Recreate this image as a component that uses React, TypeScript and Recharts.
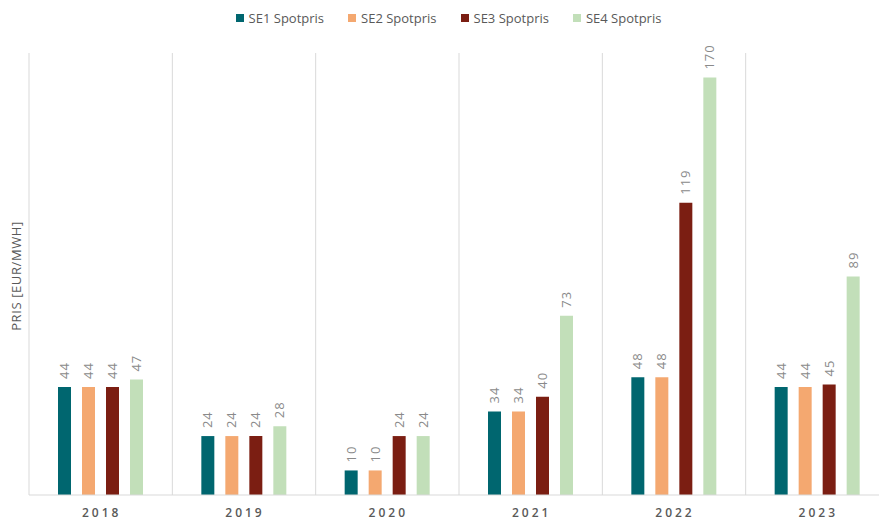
import React from "react";
import { BarChart, Bar, XAxis, YAxis, CartesianGrid, LabelList } from "recharts";

const years = ["2018", "2019", "2020", "2021", "2022", "2023"];
const se1 = [44, 24, 10, 34, 48, 44];
const se2 = [44, 24, 10, 34, 48, 44];
const se3 = [44, 24, 24, 40, 119, 45];
const se4 = [47, 28, 24, 73, 170, 89];

const series = [
  { key: "se1", name: "SE1 Spotpris", color: "#00666f" },
  { key: "se2", name: "SE2 Spotpris", color: "#f4a870" },
  { key: "se3", name: "SE3 Spotpris", color: "#7b1e12" },
  { key: "se4", name: "SE4 Spotpris", color: "#c2dfb9" },
];

const data = years.map((year, i) => ({
  year,
  se1: se1[i],
  se2: se2[i],
  se3: se3[i],
  se4: se4[i],
}));

const FONT = "'Open Sans', 'Noto Sans', sans-serif";

// gridlines sit on the category boundaries, not on the tick centres
function boundaryLines(props: any) {
  const { xAxis, offset } = props;
  const scale = xAxis && xAxis.scale;
  if (typeof scale === "function" && typeof scale.bandwidth === "function") {
    const bw = scale.bandwidth();
    const starts = years.map((y) => scale(y));
    return starts.concat([starts[starts.length - 1] + bw]);
  }
  const step = offset.width / years.length;
  return years.map((_, i) => offset.left + i * step);
}

function BarValue(props: any) {
  const { x, y, width, value } = props;
  const cx = x + width / 2 + 4.5;
  const cy = y - 8;
  return (
    <text
      x={cx}
      y={cy}
      transform={`rotate(-90, ${cx}, ${cy})`}
      textAnchor="start"
      fontSize={13}
      letterSpacing={1}
      fill="#8a8a8a"
      fontFamily={FONT}
    >
      {value}
    </text>
  );
}

function YearTick(props: any) {
  const { x, y, payload } = props;
  return (
    <text
      x={x + 1}
      y={y + 14}
      textAnchor="middle"
      fontSize={12}
      fontWeight={600}
      letterSpacing={3}
      fill="#595959"
      fontFamily={FONT}
    >
      {payload.value}
    </text>
  );
}

function YLabel(props: any) {
  const { viewBox } = props;
  const cx = viewBox.x + 21;
  const cy = viewBox.y + viewBox.height / 2 + 2;
  return (
    <text
      x={cx}
      y={cy}
      transform={`rotate(-90, ${cx}, ${cy})`}
      textAnchor="middle"
      fontSize={13}
      letterSpacing={0.6}
      fill="#595959"
      fontFamily={FONT}
    >
      PRIS [EUR/MWH]
    </text>
  );
}

export default function App() {
  return (
    <div
      style={{
        position: "absolute",
        left: 0,
        top: 0,
        width: 879,
        height: 521,
        overflow: "hidden",
        background: "#fff",
      }}
    >
      <div
        style={{
          position: "absolute",
          top: 9,
          left: 0,
          width: 889,
          display: "flex",
          justifyContent: "center",
          gap: 24,
          fontFamily: FONT,
          fontSize: 13,
          color: "#595959",
          paddingLeft: 8,
          boxSizing: "border-box",
        }}
      >
        {series.map((s) => (
          <div key={s.key} style={{ display: "flex", alignItems: "center" }}>
            <span
              style={{
                display: "inline-block",
                width: 8,
                height: 8,
                background: s.color,
                marginRight: 5,
              }}
            />
            {s.name}
          </div>
        ))}
      </div>
      <BarChart
        width={889}
        height={521}
        data={data}
        margin={{ top: 53, right: 0, bottom: 0, left: 0 }}
        barSize={13}
        barGap={11}
      >
        <CartesianGrid
          horizontal={false}
          vertical={true}
          verticalCoordinatesGenerator={boundaryLines}
          stroke="#d9d9d9"
          strokeWidth={1}
        />
        <XAxis
          dataKey="year"
          height={26}
          axisLine={{ stroke: "#d9d9d9" }}
          tickLine={false}
          tick={<YearTick />}
          interval={0}
        />
        <YAxis
          width={29}
          domain={[0, 180]}
          tick={false}
          axisLine={false}
          tickLine={false}
          label={<YLabel />}
        />
        {series.map((s) => (
          <Bar
            key={s.key}
            dataKey={s.key}
            name={s.name}
            fill={s.color}
            isAnimationActive={false}
          >
            <LabelList dataKey={s.key} content={<BarValue />} />
          </Bar>
        ))}
      </BarChart>
    </div>
  );
}
